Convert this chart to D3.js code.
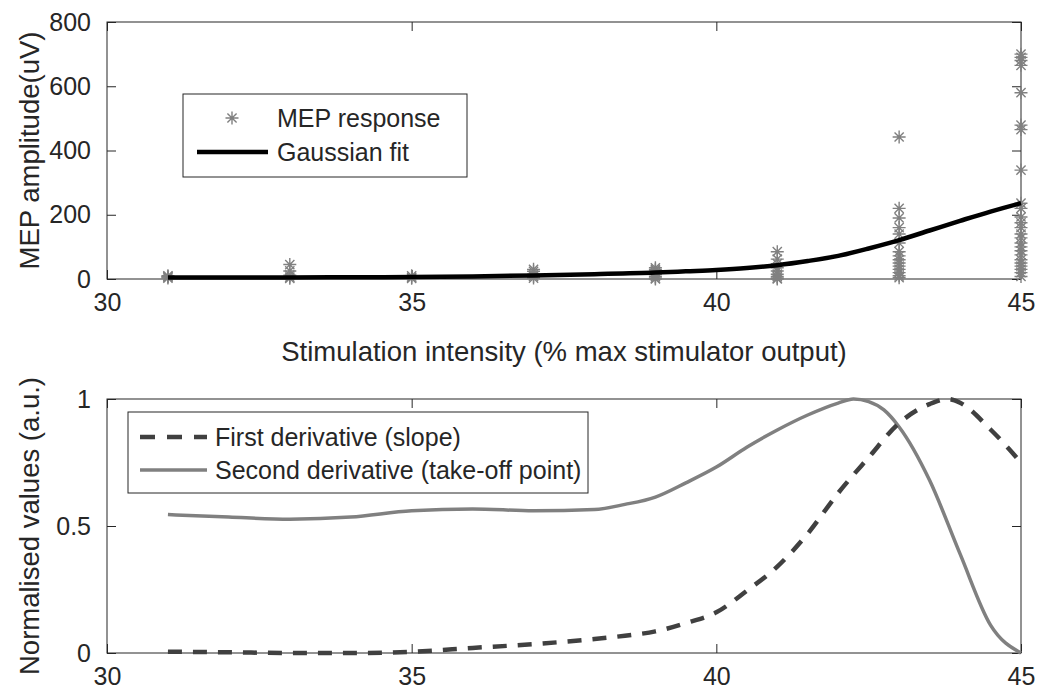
<!DOCTYPE html>
<html><head><meta charset="utf-8">
<script src="https://cdn.jsdelivr.net/npm/d3@7"></script>
<style>
body{margin:0;background:#fff;}
svg{display:block;font-family:"Liberation Sans",Arial,Helvetica,sans-serif;}
</style></head>
<body>
<svg id="chart" width="1037" height="695"></svg>
<script>
// ---- data ----
const xTicks = [30, 35, 40, 45];
const yTicksTop = [0, 200, 400, 600, 800];
const yTicksBottom = [0, 0.5, 1];

const mep31 = [3, 6, 8, 10];
const mep33 = [45, 25, 12, 6, 2];
const mep35 = [10, 5, 2];
const mep37 = [30, 24, 15, 8, 3];
const mep39 = [35, 30, 25, 20, 14, 8, 3, 0];
const mep41 = [85, 62, 48, 35, 25, 15, 8, 3, 0];
const mep43 = [442, 220, 190, 160, 140, 112, 85, 72, 60, 50, 40, 30, 20, 10, 4];
const mep45 = [700, 690, 680, 665, 580, 479, 465, 339, 236, 220, 193, 175, 160, 140, 128, 112, 100, 88, 75, 60, 50, 40, 30, 20, 8];
const mepIntensity = [31, 33, 35, 37, 39, 41, 43, 45];
const mepGroups = [mep31, mep33, mep35, mep37, mep39, mep41, mep43, mep45];

const fitX = [31, 32, 33, 34, 35, 36, 37, 38, 39, 39.5, 40, 40.5, 41, 41.5, 42, 42.5, 43, 43.5, 44, 44.5, 45];
const fitY = [5, 5, 5, 5.5, 6, 8, 11, 15, 20, 24, 28, 34, 43, 56, 72, 95, 121, 151, 181, 210, 236];

const slopeX = [31, 32, 33, 34, 35, 36, 37, 38, 38.5, 39, 39.5, 40, 40.5, 41, 41.5, 42, 42.5, 43, 43.5, 43.8, 44, 44.5, 45];
const slopeY = [0.005, 0.003, 0.0, 0.0, 0.005, 0.02, 0.035, 0.055, 0.068, 0.085, 0.118, 0.16, 0.245, 0.34, 0.47, 0.63, 0.77, 0.905, 0.98, 1.0, 0.985, 0.88, 0.75];

const takeoffX = [31, 32, 33, 34, 35, 36, 37, 38, 38.5, 39, 39.5, 40, 40.5, 41, 41.5, 42, 42.25, 42.5, 42.75, 43, 43.5, 44, 44.5, 45];
const takeoffY = [0.545, 0.535, 0.527, 0.535, 0.56, 0.567, 0.56, 0.565, 0.585, 0.614, 0.67, 0.732, 0.81, 0.878, 0.937, 0.984, 1.0, 0.99, 0.957, 0.89, 0.68, 0.39, 0.11, 0.0];

// ---- layout ----
const svg = d3.select("#chart");
const L = 107, R = 1021;
const top1 = 22, bot1 = 279;
const top2 = 399, bot2 = 653;
const axisColor = "#262626";
const tickFont = 25, labelFont = 27.5, legendFont = 25;

const x = d3.scaleLinear().domain([30, 45]).range([L, R]);
const y1 = d3.scaleLinear().domain([0, 800]).range([bot1, top1]);
const y2 = d3.scaleLinear().domain([0, 1]).range([bot2, top2]);

function drawBox(yScale, yTicks, t, b, yFmt) {
  const g = svg.append("g");
  const tl = 9;
  const xa = g.append("g").attr("transform", `translate(0,${b})`)
    .call(d3.axisBottom(x).tickValues(xTicks).tickSize(-tl).tickPadding(14).tickFormat(d3.format("d")));
  const xa2 = g.append("g").attr("transform", `translate(0,${t})`)
    .call(d3.axisTop(x).tickValues(xTicks).tickSize(-tl).tickFormat(""));
  const ya = g.append("g").attr("transform", `translate(${L},0)`)
    .call(d3.axisLeft(yScale).tickValues(yTicks).tickSize(-tl).tickPadding(16).tickFormat(yFmt));
  const ya2 = g.append("g").attr("transform", `translate(${R},0)`)
    .call(d3.axisRight(yScale).tickValues(yTicks).tickSize(-tl).tickFormat(""));
  [xa, xa2, ya, ya2].forEach(a => {
    a.select(".domain").remove();
    a.selectAll("line").attr("stroke", axisColor);
    a.selectAll("text").attr("fill", axisColor).style("font-size", tickFont + "px")
      .style("font-family", '"Liberation Sans",Arial,sans-serif');
  });
  g.append("rect").attr("x", L).attr("y", t).attr("width", R - L).attr("height", b - t)
    .attr("fill", "none").attr("stroke", axisColor).attr("stroke-width", 1);
  return g;
}

function fmtNum(d) { return d === 0.5 ? "0.5" : String(d); }

// ---- top plot ----
drawBox(y1, yTicksTop, top1, bot1, d3.format("d"));

const starPath = "M-6.5,0L6.5,0M0,-6.5L0,6.5M-4.6,-4.6L4.6,4.6M-4.6,4.6L4.6,-4.6";
const mepPoints = [];
mepGroups.forEach((grp, i) => grp.forEach(v => mepPoints.push({x: mepIntensity[i], y: v})));

svg.append("g").selectAll("path").data(mepPoints).join("path")
  .attr("d", starPath)
  .attr("transform", d => `translate(${x(d.x)},${y1(d.y)})`)
  .attr("fill", "none").attr("stroke", "#808080").attr("stroke-width", 1.4);

const fitLine = d3.line().x(d => x(d[0])).y(d => y1(d[1])).curve(d3.curveMonotoneX);
svg.append("path").datum(fitX.map((v, i) => [v, fitY[i]]))
  .attr("d", fitLine).attr("fill", "none").attr("stroke", "#000").attr("stroke-width", 4.5);

// top legend
const lg1 = svg.append("g");
lg1.append("rect").attr("x", 183).attr("y", 94).attr("width", 284).attr("height", 83)
  .attr("fill", "#fff").attr("stroke", axisColor).attr("stroke-width", 1);
lg1.append("path").attr("d", starPath).attr("transform", "translate(232,118)")
  .attr("fill", "none").attr("stroke", "#808080").attr("stroke-width", 1.4);
lg1.append("line").attr("x1", 197).attr("x2", 268).attr("y1", 152).attr("y2", 152)
  .attr("stroke", "#000").attr("stroke-width", 4.5);
lg1.append("text").attr("x", 277).attr("y", 118).attr("dy", "0.35em").text("MEP response")
  .style("font-size", legendFont + "px").attr("fill", axisColor);
lg1.append("text").attr("x", 277).attr("y", 152).attr("dy", "0.35em").text("Gaussian fit")
  .style("font-size", legendFont + "px").attr("fill", axisColor);

// labels
svg.append("text").attr("x", (L + R) / 2).attr("y", 351).attr("dy", "0.35em").attr("text-anchor", "middle")
  .text("Stimulation intensity (% max stimulator output)").style("font-size", labelFont + "px").attr("fill", axisColor);
svg.append("text").attr("transform", `translate(29,${(top1 + bot1) / 2}) rotate(-90)`).attr("dy", "0.35em")
  .attr("text-anchor", "middle").text("MEP amplitude(uV)").style("font-size", labelFont + "px").attr("fill", axisColor);

// ---- bottom plot ----
drawBox(y2, yTicksBottom, top2, bot2, fmtNum);

const l2 = d3.line().x(d => x(d[0])).y(d => y2(d[1])).curve(d3.curveMonotoneX);
svg.append("path").datum(takeoffX.map((v, i) => [v, takeoffY[i]]))
  .attr("d", l2).attr("fill", "none").attr("stroke", "#808080").attr("stroke-width", 3.5);
svg.append("path").datum(slopeX.map((v, i) => [v, slopeY[i]]))
  .attr("d", l2).attr("fill", "none").attr("stroke", "#404040").attr("stroke-width", 4.5)
  .attr("stroke-dasharray", "14,11");

const lg2 = svg.append("g");
lg2.append("rect").attr("x", 128).attr("y", 412).attr("width", 460).attr("height", 81)
  .attr("fill", "#fff").attr("stroke", axisColor).attr("stroke-width", 1);
lg2.append("line").attr("x1", 140).attr("x2", 207).attr("y1", 437).attr("y2", 437)
  .attr("stroke", "#404040").attr("stroke-width", 4.5).attr("stroke-dasharray", "15,12");
lg2.append("line").attr("x1", 140).attr("x2", 207).attr("y1", 470).attr("y2", 470)
  .attr("stroke", "#808080").attr("stroke-width", 3.5);
lg2.append("text").attr("x", 215).attr("y", 437).attr("dy", "0.35em").text("First derivative (slope)")
  .style("font-size", legendFont + "px").attr("fill", axisColor);
lg2.append("text").attr("x", 215).attr("y", 470).attr("dy", "0.35em").text("Second derivative (take-off point)")
  .style("font-size", legendFont + "px").attr("fill", axisColor);

svg.append("text").attr("transform", `translate(29,${(top2 + bot2) / 2}) rotate(-90)`).attr("dy", "0.35em")
  .attr("text-anchor", "middle").text("Normalised values (a.u.)").style("font-size", labelFont + "px").attr("fill", axisColor);
</script>
</body></html>
